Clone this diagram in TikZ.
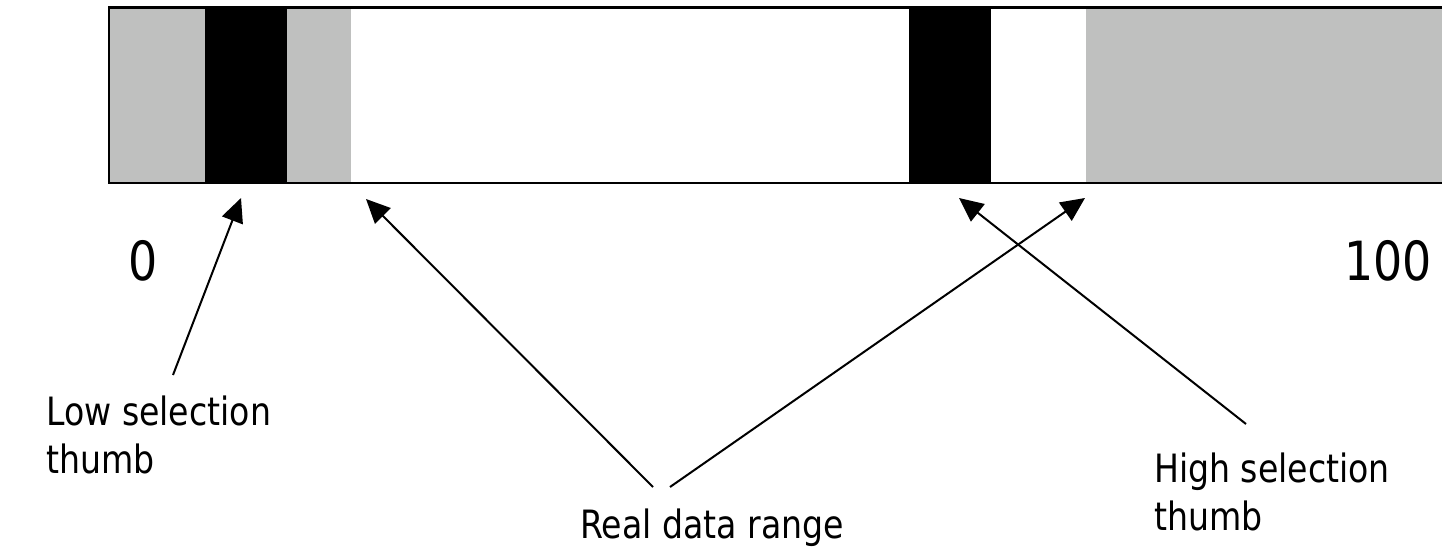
\documentclass[tikz,border=0pt]{standalone}
\usepackage{fontspec}
\setmainfont{DejaVu Sans}[FakeStretch=0.85]
\usetikzlibrary{arrows.meta}
\definecolor{bargray}{RGB}{191,192,191}
\tikzset{
  barline/.style={line width=2.8pt, black},
  pointer/.style={line width=2pt, -{Triangle[length=24pt,width=22pt]}},
  lbl/.style={inner sep=0pt, align=left, font=\fontsize{39}{48}\selectfont},
  num/.style={inner sep=0pt, font=\fontsize{54}{60}\selectfont}
}
\begin{document}
\begin{tikzpicture}[x=1pt,y=-1pt]
\useasboundingbox (0,0) rectangle (1442,548);
% bar segments
\fill[bargray] (109,7.5) rectangle (205,183);
\fill[black] (205,7.5) rectangle (287,183);
\fill[bargray] (287,7.5) rectangle (351,183);
\fill[black] (909,7.5) rectangle (991,183);
\fill[bargray] (1086,7.5) rectangle (1460,183);
% bar outline
\draw[barline] (1460,7.5) -- (109,7.5) -- (109,183) -- (1460,183);
% numbers
\node[num, anchor=base west] (zero) at (128,280) {0};
\node[num, anchor=base east] (hundred) at (1432,280) {100};
% labels (base = baseline of last line)
\node[lbl, anchor=base west] (low) at (46,473) {Low selection\\thumb};
\node[lbl, anchor=base west] (high) at (1154,530) {High selection\\thumb};
\node[lbl, anchor=base west] (real) at (580,538) {Real data range};
% arrow ends
\coordinate (lowtail) at (173,375);
\coordinate (lowtip) at (241,198);
\coordinate (realtailL) at (653,487);
\coordinate (realtipL) at (366,199);
\coordinate (realtailR) at (670,487);
\coordinate (realtipR) at (1085,198);
\coordinate (hightail) at (1246,424);
\coordinate (hightip) at (959,198);
\draw[pointer] (lowtail) -- (lowtip);
\draw[pointer] (realtailL) -- (realtipL);
\draw[pointer] (realtailR) -- (realtipR);
\draw[pointer] (hightail) -- (hightip);
\end{tikzpicture}
\end{document}
